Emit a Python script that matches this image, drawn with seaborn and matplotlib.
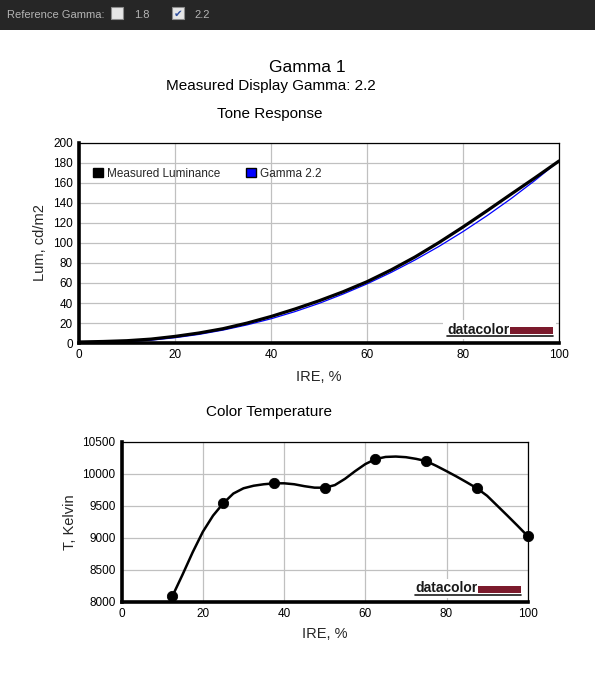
import seaborn as sns
import matplotlib.pyplot as plt
from matplotlib.patches import Rectangle, Patch
from matplotlib.lines import Line2D

sns.set_style("whitegrid")
plt.rcParams['font.family'] = ['Liberation Sans', 'DejaVu Sans']

W, H = 595, 673

# Tone response (IRE %, cd/m2)
ire_tone = [0, 5, 10, 15, 20, 25, 30, 35, 40, 45, 50,
            55, 60, 65, 70, 75, 80, 85, 90, 95, 100]
measured_lum = [1.0, 1.5, 2.3, 3.9, 6.6, 10.0, 14.3, 19.9, 26.5, 34.0, 42.2,
                51.2, 61.3, 73.0, 86.0, 100.5, 116.0, 132.2, 148.8, 165.2, 182.0]
gamma22_lum = [0.0, 0.25, 1.15, 2.8, 5.3, 8.6, 12.9, 18.1, 24.2, 31.4, 39.6,
               48.9, 59.1, 70.5, 83.0, 96.6, 111.4, 127.3, 144.3, 162.6, 182.0]

# Color temperature measurements
ire_ct = [12.5, 25, 37.5, 50, 62.5, 75, 87.5, 100]
kelvin = [8088, 9537, 9849, 9781, 10228, 10197, 9772, 9025]

# smoothed trace of the drawn curve
ire_ct_curve = [12.5, 15, 17.5, 20, 22.5, 25, 27.5, 30, 32.5, 35, 37.5, 40,
                42.5, 45, 47.5, 50, 52.5, 55, 57.5, 60, 62.5, 65, 67.5, 70,
                72.5, 75, 77.5, 80, 82.5, 85, 87.5, 90, 92.5, 95, 97.5, 100]
kelvin_curve = [8088, 8425, 8775, 9094, 9345, 9537, 9690, 9772, 9812, 9835, 9849, 9850,
                9835, 9805, 9782, 9781, 9822, 9920, 10040, 10150, 10228, 10262, 10268, 10258,
                10232, 10197, 10122, 10040, 9955, 9865, 9772, 9655, 9500, 9345, 9187, 9025]

fig = plt.figure(figsize=(W / 100, H / 100), dpi=100)
fig.patch.set_facecolor('white')


def fx(x):
    return x / W


def fy(y):
    return 1 - y / H


def add_axes_px(left, top, right, bottom):
    return fig.add_axes([fx(left), fy(bottom), (right - left) / W, (bottom - top) / H])


def style_axes(ax):
    ax.set_facecolor('white')
    ax.grid(True, color='#c0c0c0', linewidth=0.9)
    ax.set_axisbelow(True)
    for side in ['top', 'right']:
        ax.spines[side].set_color('black')
        ax.spines[side].set_linewidth(0.9)
    for side in ['left', 'bottom']:
        ax.spines[side].set_color('black')
        ax.spines[side].set_linewidth(2.6)
    ax.tick_params(axis='both', direction='out', length=3, width=0.8,
                   color='black', labelsize=8.5, labelcolor='black', pad=1.5)


def logo(x0, base):
    # white box behind the datacolor mark
    fig.patches.append(Rectangle((fx(x0 - 4), fy(base + 5)), 113 / W, 19 / H,
                                 transform=fig.transFigure, facecolor='white',
                                 edgecolor='none', zorder=2))
    fig.text(fx(x0), fy(base), 'datacolor', fontsize=10, fontweight='bold',
             color='#1a1a1a', va='baseline', ha='left', zorder=3)
    fig.patches.append(Rectangle((fx(x0 + 63), fy(base)), 43 / W, 7 / H,
                                 transform=fig.transFigure, facecolor='#7b1a2c',
                                 edgecolor='none', zorder=3))
    fig.lines.append(Line2D([fx(x0), fx(x0 + 106)], [fy(base + 2.3)] * 2,
                            transform=fig.transFigure, color='#1a1a1a', lw=1.2, zorder=3))


# top dark bar
fig.patches.append(Rectangle((0, fy(30)), 1, 30 / H, transform=fig.transFigure,
                             facecolor='#262626', edgecolor='none', zorder=1))
fig.text(fx(7), fy(15), 'Reference Gamma:', fontsize=8, color='#b4b4b4',
         va='center', ha='left', zorder=3)
for bx in [111, 172]:
    fig.patches.append(Rectangle((fx(bx), fy(19)), 12 / W, 12 / H, transform=fig.transFigure,
                                 facecolor='#e6e6e6', edgecolor='#8c8c8c', lw=0.8, zorder=3))
fig.text(fx(178), fy(13.5), '✔', family=['DejaVu Sans'], fontsize=7.5, color='#2f4f9f',
         va='center', ha='center', zorder=4)
fig.text(fx(134), fy(15.5), '1.8', fontsize=8, color='#b4b4b4', va='center', zorder=3)
fig.text(fx(194), fy(15.5), '2.2', fontsize=8, color='#b4b4b4', va='center', zorder=3)

# titles
fig.text(fx(307), fy(67), 'Gamma 1', fontsize=12.5, ha='center', va='center', color='black')
fig.text(fx(270.5), fy(86), 'Measured Display Gamma: 2.2', fontsize=11, ha='center',
         va='center', color='black')
fig.text(fx(270), fy(114), 'Tone Response', fontsize=11, ha='center', va='center', color='black')
fig.text(fx(269.5), fy(412), 'Color Temperature', fontsize=11, ha='center', va='center',
         color='black')

# Tone response chart
ax1 = add_axes_px(79, 143, 559, 343)
style_axes(ax1)
sns.lineplot(x=ire_tone, y=gamma22_lum, color='#0000ff', linewidth=0.9, ax=ax1)
sns.lineplot(x=ire_tone, y=measured_lum, color='black', linewidth=2.3, ax=ax1)
ax1.set_xlim(0, 100)
ax1.set_ylim(0, 200)
ax1.set_xticks(range(0, 101, 20))
ax1.set_yticks(range(0, 201, 20))
ax1.set_xlabel('IRE, %', fontsize=10.5, va='center')
ax1.set_ylabel('Lum, cd/m2', fontsize=10.5, va='center')
ax1.xaxis.set_label_coords(0.5, -0.17)
ax1.yaxis.set_label_coords(-0.081, 0.5)
handles = [Patch(facecolor='black', edgecolor='black', label='Measured Luminance'),
           Patch(facecolor='#0000ff', edgecolor='black', label='Gamma 2.2')]
ax1.legend(handles=handles, loc='upper left', bbox_to_anchor=(0.029, 0.877), ncol=2,
           frameon=False, fontsize=8.5, handlelength=0.85, handleheight=0.85,
           handletextpad=0.35, columnspacing=2.2, borderpad=0, borderaxespad=0)
logo(447, 334)

# Color temperature chart
ax2 = add_axes_px(121.7, 441.7, 527.7, 601.7)
style_axes(ax2)
sns.lineplot(x=ire_ct_curve, y=kelvin_curve, color='black', linewidth=1.8, ax=ax2)
sns.scatterplot(x=ire_ct, y=kelvin, color='black', s=55, edgecolor='black',
                ax=ax2, zorder=4, clip_on=False)
ax2.set_xlim(0, 100)
ax2.set_ylim(8000, 10500)
ax2.set_xticks(range(0, 101, 20))
ax2.set_yticks(range(8000, 10501, 500))
ax2.set_xlabel('IRE, %', fontsize=10.5, va='center')
ax2.set_ylabel('T, Kelvin', fontsize=10.5, va='center')
ax2.xaxis.set_label_coords(0.5, -0.202)
ax2.yaxis.set_label_coords(-0.128, 0.5)
logo(415, 592.5)

fig.savefig('out.png', dpi=100)
